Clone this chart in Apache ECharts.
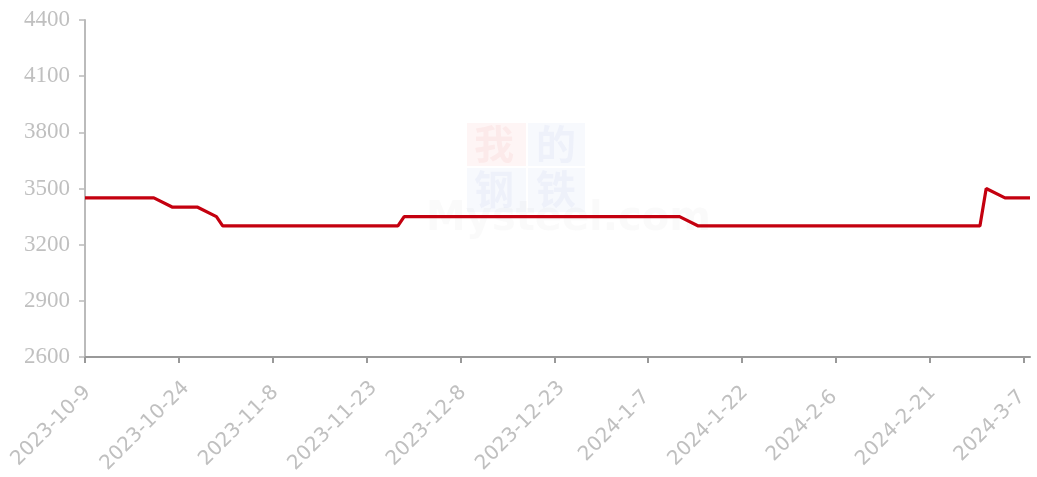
<!DOCTYPE html>
<html>
<head>
<meta charset="utf-8">
<script src="https://cdn.jsdelivr.net/npm/echarts@6/dist/echarts.min.js"></script>
<style>html,body{margin:0;padding:0;background:#fff}#c{width:1037px;height:477px}</style>
</head>
<body>
<div id="c"></div>
<script>
// Axis range (calendar days) and tick labels
const startDate = '2023-10-9';
const endDate = '2024-3-8';
const yTicks = [2600, 2900, 3200, 3500, 3800, 4100, 4400];

// Trading days and prices
const tradeDates = [
  '2023-10-9','2023-10-10','2023-10-11','2023-10-12','2023-10-13',
  '2023-10-16','2023-10-17','2023-10-18','2023-10-19','2023-10-20',
  '2023-10-23','2023-10-24','2023-10-25','2023-10-26','2023-10-27',
  '2023-10-30','2023-10-31',
  '2023-11-1','2023-11-2','2023-11-3',
  '2023-11-6','2023-11-7','2023-11-8','2023-11-9','2023-11-10',
  '2023-11-13','2023-11-14','2023-11-15','2023-11-16','2023-11-17',
  '2023-11-20','2023-11-21','2023-11-22','2023-11-23','2023-11-24',
  '2023-11-27','2023-11-28','2023-11-29','2023-11-30',
  '2023-12-1',
  '2023-12-4','2023-12-5','2023-12-6','2023-12-7','2023-12-8',
  '2023-12-11','2023-12-12','2023-12-13','2023-12-14','2023-12-15',
  '2023-12-18','2023-12-19','2023-12-20','2023-12-21','2023-12-22',
  '2023-12-25','2023-12-26','2023-12-27','2023-12-28','2023-12-29',
  '2024-1-2','2024-1-3','2024-1-4','2024-1-5',
  '2024-1-8','2024-1-9','2024-1-10','2024-1-11','2024-1-12',
  '2024-1-15','2024-1-16','2024-1-17','2024-1-18','2024-1-19',
  '2024-1-22','2024-1-23','2024-1-24','2024-1-25','2024-1-26',
  '2024-1-29','2024-1-30','2024-1-31',
  '2024-2-1','2024-2-2',
  '2024-2-5','2024-2-6','2024-2-7','2024-2-8',
  '2024-2-19','2024-2-20','2024-2-21','2024-2-22','2024-2-23',
  '2024-2-26','2024-2-27','2024-2-28','2024-2-29',
  '2024-3-1',
  '2024-3-4','2024-3-5','2024-3-6','2024-3-7','2024-3-8'
];
const prices = [
  3450,3450,3450,3450,3450,
  3450,3450,3450,3450,3450,
  3400,3400,3400,3400,3400,
  3350,3300,
  3300,3300,3300,
  3300,3300,3300,3300,3300,
  3300,3300,3300,3300,3300,
  3300,3300,3300,3300,3300,
  3300,3300,3350,3350,
  3350,
  3350,3350,3350,3350,3350,
  3350,3350,3350,3350,3350,
  3350,3350,3350,3350,3350,
  3350,3350,3350,3350,3350,
  3350,3350,3350,3350,
  3350,3350,3350,3350,3350,
  3300,3300,3300,3300,3300,
  3300,3300,3300,3300,3300,
  3300,3300,3300,
  3300,3300,
  3300,3300,3300,3300,
  3300,3300,3300,3300,3300,
  3300,3300,3300,3300,
  3500,
  3450,3450,3450,3450,3450
];

// Build calendar-day categories
function parseD(s){const p=s.split('-').map(Number);return new Date(p[0],p[1]-1,p[2]);}
function fmt(d){return d.getFullYear()+'-'+(d.getMonth()+1)+'-'+d.getDate();}
const categories = [];
for (let d = parseD(startDate); d <= parseD(endDate); d.setDate(d.getDate()+1)) categories.push(fmt(d));

const seriesData = tradeDates.map((d,i)=>[d, prices[i]]);

const chart = echarts.init(document.getElementById('c'));
chart.setOption({
  animation:false,
  backgroundColor:'#fff',
  grid:{left:85,right:7,top:20,bottom:120,containLabel:false},
  graphic:[
    {type:'rect',left:467,top:123,shape:{width:59,height:43},style:{fill:'rgba(230,60,60,0.05)'},z:0},
    {type:'rect',left:528,top:123,shape:{width:57,height:43},style:{fill:'rgba(80,110,200,0.045)'},z:0},
    {type:'rect',left:467,top:168,shape:{width:59,height:44},style:{fill:'rgba(80,110,200,0.045)'},z:0},
    {type:'rect',left:528,top:168,shape:{width:57,height:44},style:{fill:'rgba(80,110,200,0.045)'},z:0},
    {type:'text',left:474,top:124,style:{text:'我',font:'bold 40px "Noto Sans CJK SC"',fill:'rgba(220,60,60,0.06)'},z:0},
    {type:'text',left:536,top:124,style:{text:'的',font:'bold 40px "Noto Sans CJK SC"',fill:'rgba(70,100,190,0.05)'},z:0},
    {type:'text',left:474,top:169,style:{text:'钢',font:'bold 40px "Noto Sans CJK SC"',fill:'rgba(70,100,190,0.05)'},z:0},
    {type:'text',left:536,top:169,style:{text:'铁',font:'bold 40px "Noto Sans CJK SC"',fill:'rgba(70,100,190,0.05)'},z:0},
    {type:'text',left:426,top:200,style:{text:'Mysteel.com',font:'bold 40px "DejaVu Sans"',fill:'rgba(150,150,150,0.05)'},z:0}
  ],
  xAxis:{
    type:'category',
    data:categories,
    boundaryGap:false,
    axisLine:{lineStyle:{color:'#999',width:2}},
    axisTick:{show:true,interval:14,length:6,lineStyle:{color:'#999',width:2}},
    axisLabel:{interval:14,rotate:45,color:'#c0c0c0',fontSize:20,fontFamily:'DejaVu Sans',
      margin:35,align:'center',verticalAlign:'middle',padding:[0,96,0,0]},
    splitLine:{show:false}
  },
  yAxis:{
    type:'value',
    min:yTicks[0],max:yTicks[yTicks.length-1],interval:300,
    axisLine:{show:true,lineStyle:{color:'#bbb',width:2}},
    axisTick:{show:true,length:6,lineStyle:{color:'#bbb',width:1.5}},
    axisLabel:{color:'#c0c0c0',fontSize:23,fontFamily:'Liberation Serif',margin:15,formatter:v=>String(v)},
    splitLine:{show:false}
  },
  series:[{
    type:'line',
    data:seriesData,
    showSymbol:false,
    symbol:'none',
    lineStyle:{color:'#c4000f',width:3.2},
    z:5
  }]
});
</script>
</body>
</html>
